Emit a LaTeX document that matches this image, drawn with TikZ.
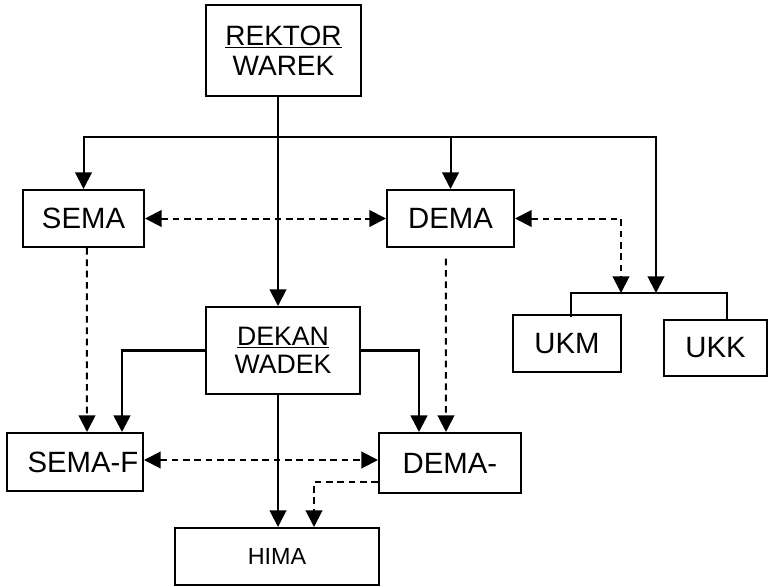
\documentclass[tikz,border=0pt]{standalone}
\usepackage{fontspec}
\setmainfont{Liberation Sans}
\usetikzlibrary{arrows.meta,positioning}

\begin{document}
\begin{tikzpicture}[x=0.75pt, y=-0.75pt,
  box/.style = {draw, shape = rectangle, line width = 1.5pt, inner sep = 0pt, align = center, font = \fontsize{22}{26}\selectfont},
  link/.style = {line width = 1.5pt, -{Triangle[width = 12.5pt, length = 12.5pt]}},
  dlink/.style = {line width = 1.5pt, dash pattern = on 5pt off 3.5pt, {Triangle[width = 12.5pt, length = 12.5pt]}-{Triangle[width = 12.5pt, length = 12.5pt]}},
  dstep/.style = {line width = 1.5pt, dash pattern = on 5pt off 3.5pt, -{Triangle[width = 12.5pt, length = 12.5pt]}}]
\useasboundingbox (0,0) rectangle (768,586);

% boxes
\node[box, minimum width = 116.25pt, minimum height = 68.25pt, font = \fontsize{21}{22.5}\selectfont] (rektor) at (283.5,50.5) {\underline{REKTOR}\\WAREK};
\node[box, minimum width = 90.75pt, minimum height = 42.75pt] (sema) at (83.5,218.5) {SEMA};
\node[box, minimum width = 95.25pt, minimum height = 42.75pt] (dema) at (450.5,218.5) {DEMA};
\node[box, minimum width = 115.5pt, minimum height = 65.25pt, font = \fontsize{20}{21}\selectfont] (dekan) at (283,350.5) {\underline{DEKAN}\\WADEK};
\node[box, minimum width = 81pt, minimum height = 42.75pt] (ukm) at (567,343.5) {UKM};
\node[box, minimum width = 77.25pt, minimum height = 42pt] (ukk) at (715.5,348) {UKK};
\node[box, minimum width = 102pt, minimum height = 43.5pt] (semaf) at (75,462) {\hspace*{12pt}SEMA-F};
\node[box, minimum width = 106.5pt, minimum height = 45pt] (demaf) at (450,463) {DEMA-};
\node[box, minimum width = 153pt, minimum height = 42.75pt, font = \fontsize{17.5}{20}\selectfont] (hima) at (277,556.5) {HIMA};

% junctions
\coordinate (trunk) at (278,137);
\coordinate (ukin) at (656,293);
\coordinate (ukds) at (621,293);
\coordinate (ukl) at (571,293);
\coordinate (ukr) at (727,293);

% solid lines
\draw[link] (rektor.south -| trunk) -- (dekan.north -| trunk);
\draw[link] (trunk) -| (sema.north);
\draw[link] (trunk) -| (dema.north);
\draw[link] (trunk) -| (ukin);
\draw[line width = 1.5pt] ([yshift = -2pt]ukm.north -| ukl) -- (ukl) -- (ukr) -- (ukk.north -| ukr);
\draw[link, line width = 2pt] (dekan.west) -| ([xshift = 35.25pt]semaf.north);
\draw[link, line width = 2pt] (dekan.east) -| ([xshift = -23.25pt]demaf.north);
\draw[link] (dekan.south -| trunk) -- (hima.north -| trunk);

% dashed lines
\draw[dlink] (sema.east) -- (dema.west);
\draw[dlink] (dema.east) -| (ukds);
\draw[dstep] ([xshift = 2.5pt]sema.south) -- ([xshift = 9pt]semaf.north);
\draw[dstep] ([xshift = -3.5pt, yshift = -8pt]dema.south) -- ([xshift = -3pt]demaf.north);
\draw[dlink] ([yshift = 1.5pt]semaf.east) -- ([yshift = 2.25pt]demaf.west);
\draw[dstep] ([yshift = -14.25pt]demaf.west) -| ([xshift = 27.75pt]hima.north);
\end{tikzpicture}
\end{document}
